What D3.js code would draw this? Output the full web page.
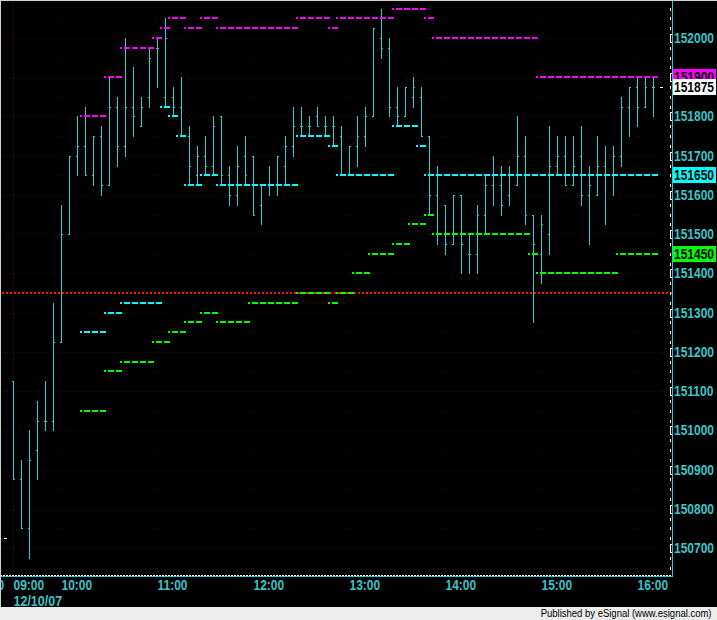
<!DOCTYPE html>
<html><head><meta charset="utf-8">
<script src="https://cdn.jsdelivr.net/npm/d3@7"></script>
<style>html,body{margin:0;padding:0;background:#000;overflow:hidden}svg{display:block}</style>
</head><body><svg id="c" width="717" height="620"></svg>
<script>
// ---------- DATA ----------
const barTimes = ["09:30","09:35","09:40","09:45","09:50","09:55","10:00","10:05","10:10","10:15","10:20","10:25",
"10:30","10:35","10:40","10:45","10:50","10:55","11:00","11:05","11:10","11:15","11:20","11:25",
"11:30","11:35","11:40","11:45","11:50","11:55","12:00","12:05","12:10","12:15","12:20","12:25",
"12:30","12:35","12:40","12:45","12:50","12:55","13:00","13:05","13:10","13:15","13:20","13:25",
"13:30","13:35","13:40","13:45","13:50","13:55","14:00","14:05","14:10","14:15","14:20","14:25",
"14:30","14:35","14:40","14:45","14:50","14:55","15:00","15:05","15:10","15:15","15:20","15:25",
"15:30","15:35","15:40","15:45","15:50","15:55","16:00","16:05","16:10"];
const opens  = [151125,150875,150750,150950,151025,151025,151225,151500,151700,151725,151650,151750,
151625,151825,151725,151825,151775,151850,151975,151850,151850,151825,151750,151650,
151700,151675,151800,151650,151600,151700,151700,151575,151625,151625,151675,151725,
151775,151775,151800,151775,151775,151750,151650,151725,151750,151800,152000,151975,
151825,151800,151850,151850,151750,151600,151575,151475,151600,151450,151450,151550,
151625,151625,151600,151625,151700,151550,151450,151500,151675,151700,151625,151700,
151600,151600,151675,151650,151700,151825,151875,151825,151875];
const highs  = [151125,150925,151000,151075,151125,151325,151575,151700,151800,151825,151750,151775,
151900,151850,152000,151925,151850,151975,152000,152050,151875,151900,151775,151725,
151750,151800,151800,151675,151725,151750,151700,151625,151675,151700,151750,151825,
151825,151800,151825,151800,151800,151775,151725,151800,151825,152025,152075,152000,
151875,151875,151900,151875,151750,151675,151575,151600,151600,151500,151575,151650,
151700,151675,151675,151800,151750,151550,151550,151775,151750,151750,151750,151775,
151675,151750,151725,151725,151850,151875,151900,151900,151900];
const lows   = [150875,150750,150675,150875,151000,151000,151225,151500,151650,151650,151625,151600,
151625,151675,151700,151750,151775,151825,151875,151825,151800,151750,151625,151625,
151650,151650,151625,151575,151575,151625,151550,151525,151600,151600,151625,151700,
151750,151750,151775,151750,151725,151650,151650,151675,151725,151800,151950,151800,
151775,151800,151825,151750,151550,151475,151450,151475,151400,151400,151400,151500,
151575,151550,151575,151625,151525,151275,151375,151450,151650,151625,151625,151575,
151475,151600,151525,151600,151675,151750,151775,151825,151800];
const closes = [150875,150750,150925,151025,151025,151225,151500,151700,151725,151650,151750,151625,
151825,151725,151825,151800,151825,151950,151975,152000,151825,151750,151675,151700,
151675,151775,151650,151600,151675,151650,151550,151625,151625,151700,151725,151775,
151775,151775,151775,151775,151775,151650,151725,151750,151800,152025,151975,151825,
151800,151875,151875,151750,151600,151650,151475,151600,151475,151450,151550,151625,
151650,151575,151650,151700,151550,151475,151525,151675,151700,151625,151675,151600,
151625,151675,151650,151700,151825,151875,151825,151875,151875];

// level segments: [value, first bar, last bar]
const highLevels = [[151800,"10:15","10:25"],[151900,"10:30","10:35"],[151975,"10:40","10:55"],[152000,"11:00","11:00"],
[152025,"11:05","11:05"],[152050,"11:10","11:15"],[152025,"11:20","11:25"],[152050,"11:30","11:35"],
[152025,"11:40","12:25"],[152050,"12:30","12:45"],[152025,"12:50","12:50"],[152050,"12:55","13:25"],
[152075,"13:30","13:45"],[152050,"13:50","13:50"],[152000,"13:55","14:55"],[151900,"15:00","16:10"]];
const lowLevels = [[151250,"10:15","10:25"],[151300,"10:30","10:35"],[151325,"10:40","11:00"],[151825,"11:05","11:05"],
[151800,"11:10","11:10"],[151750,"11:15","11:15"],[151625,"11:20","11:25"],[151650,"11:30","11:35"],
[151625,"11:40","12:25"],[151750,"12:30","12:45"],[151725,"12:50","12:50"],[151650,"12:55","13:25"],
[151775,"13:30","13:40"],[151725,"13:45","13:45"],[151650,"13:50","16:10"]];
const midLevels = [[151050,"10:15","10:25"],[151150,"10:30","10:35"],[151175,"10:40","10:55"],[151225,"11:00","11:05"],
[151250,"11:10","11:15"],[151275,"11:20","11:25"],[151300,"11:30","11:35"],[151275,"11:40","11:55"],
[151325,"12:00","12:25"],[151350,"12:30","12:45"],[151325,"12:50","12:50"],[151350,"12:55","13:00"],
[151400,"13:05","13:10"],[151450,"13:15","13:25"],[151475,"13:30","13:35"],[151525,"13:40","13:45"],
[151550,"13:50","13:50"],[151500,"13:55","14:50"],[151450,"14:55","14:55"],[151400,"15:00","15:45"],
[151450,"15:50","16:10"]];
const refLevel = 151350;
const lastPrice = 151875;
const priorMark = 150725;

const priceTicks = [152000,151800,151700,151600,151500,151400,151300,151200,151100,151000,150900,150800,150700];
const gridLevels = [152000,151900,151800,151700,151600,151500,151400,151300,151200,151100,151000,150900,150800,150700];
const halfLevels = [152050,151950,151850,151750,151650,151550,151450,151350,151250,151150,151050,150950,150850,150750,150650];
const tagValues = [151900,151875,151650,151450];
const timeTicks  = ["09:30","10:00","11:00","12:00","13:00","14:00","15:00","16:00"];
const timeLabels = ["09:00","10:00","11:00","12:00","13:00","14:00","15:00","16:00"];
const hourTicks = ["10:00","11:00","12:00","13:00","14:00","15:00","16:00"];
const dateLabel = "12/10/07";
const credit = "Published by eSignal (www.esignal.com)";

// ---------- STYLE ----------
const C = {bar:"#2ecbd2", axis:"#30c8cc", txt:"#3cc4c8", grid:"#7a0000", red:"#ff1010",
  mag:"#ff00ff", cyan:"#00ffff", green:"#00ff00", white:"#ffffff"};
const tagFill = {151900:C.mag, 151875:"#ffffff", 151650:C.cyan, 151450:C.green};
const font = "'Liberation Sans', Arial, sans-serif";

const svg = d3.select("#c").attr("shape-rendering","crispEdges");
svg.append("rect").attr("width",717).attr("height",620).attr("fill","#000");

const x = d3.scalePoint().domain(barTimes).range([13, 653]);
const y = d3.scaleLinear().domain([150700, 152000]).range([548, 38]);
const ry = v => Math.round(y(v));

// grid dots (100 levels, every 8px)
const gridCols = d3.range(-1, 82).map(k => x(barTimes[0]) + 8*k);
const g = svg.append("g").attr("fill", C.grid);
gridLevels.forEach(v => gridCols.forEach(cx => g.append("rect").attr("x",cx).attr("y",ry(v)).attr("width",1).attr("height",1)));
halfLevels.forEach(v => hourTicks.forEach(t => g.append("rect").attr("x",x(t)).attr("y",ry(v)).attr("width",1).attr("height",1)));
svg.append("line").attr("x1",x("09:30")+0.5).attr("x2",x("09:30")+0.5).attr("y1",2).attr("y2",575)
  .attr("stroke",C.grid).attr("stroke-dasharray","1,3");

// reference red dotted line
svg.append("line").attr("x1",2).attr("x2",672).attr("y1",ry(refLevel)).attr("y2",ry(refLevel))
  .attr("stroke",C.red).attr("stroke-width",2).attr("stroke-dasharray","2,2");

// bars
const bars = svg.append("g").attr("fill", C.bar);
barTimes.forEach((t,i) => {
  const bx = x(t);
  bars.append("rect").attr("x",bx).attr("y",ry(highs[i])).attr("width",1).attr("height",ry(lows[i])-ry(highs[i])+1);
  bars.append("rect").attr("x",bx-1).attr("y",ry(opens[i])).attr("width",1).attr("height",1);
  bars.append("rect").attr("x",bx+1).attr("y",ry(closes[i])).attr("width",1).attr("height",1);
});

// level segments
function levels(data, color){
  svg.append("g").selectAll("line").data(data).join("line")
    .attr("x1", d => x(d[1]) - 5).attr("x2", d => x(d[2]) + 5)
    .attr("y1", d => ry(d[0])).attr("y2", d => ry(d[0]))
    .attr("stroke", color).attr("stroke-width", 2)
    .attr("stroke-dasharray","6,2").attr("stroke-dashoffset",4);
}
levels(highLevels, C.mag);
levels(lowLevels, C.cyan);
levels(midLevels, C.green);

// small white markers
svg.append("rect").attr("x",x(barTimes[barTimes.length-1])+7).attr("y",ry(lastPrice)).attr("width",3).attr("height",1).attr("fill",C.white);
svg.append("rect").attr("x",4).attr("y",ry(priorMark)).attr("width",3).attr("height",1).attr("fill",C.white);

// axes lines
svg.append("rect").attr("x",672).attr("y",0).attr("width",1).attr("height",577).attr("fill",C.axis);
svg.append("rect").attr("x",0).attr("y",576).attr("width",673).attr("height",1).attr("fill",C.axis);
svg.append("line").attr("x1",0).attr("x2",671).attr("y1",575.5).attr("y2",575.5).attr("stroke",C.white).attr("stroke-dasharray","2,1");

// right axis white ticks
const tickVals = d3.range(150650, 152100, 25);
const wt = svg.append("g").attr("fill", C.white);
tickVals.forEach(v => {
  const r = ry(v);
  if (v % 100 === 0) {
    wt.append("rect").attr("x",670).attr("y",r-4).attr("width",1).attr("height",9);
    wt.append("rect").attr("x",670).attr("y",r-4).attr("width",2).attr("height",1);
    wt.append("rect").attr("x",670).attr("y",r+4).attr("width",2).attr("height",1);
  } else {
    wt.append("rect").attr("x",670).attr("y",r-1).attr("width",1).attr("height",3);
  }
});

// price labels (12px bold, stretched vertically)
const lbl = (sel) => sel.attr("font-family",font).attr("font-weight","bold").attr("font-size",12);
lbl(svg.append("g").selectAll("text").data(priceTicks).join("text")
  .attr("transform",d => `translate(674,${ry(d)+5}) scale(1,1.15)`).text(d => d)
  .attr("fill",C.txt));

// tag boxes
tagValues.forEach(v => {
  const r = ry(v);
  svg.append("rect").attr("x",673).attr("y",r-8).attr("width",43).attr("height",16).attr("fill",tagFill[v]);
  lbl(svg.append("text").attr("transform",`translate(674,${r+5}) scale(1,1.15)`).text(v).attr("fill","#000"));
});

// time labels
lbl(svg.append("g").selectAll("text").data(timeTicks).join("text")
  .attr("transform",d => `translate(${x(d)+0.5},590) scale(1,1.25)`).text((d,i) => timeLabels[i])
  .attr("fill",C.txt));
lbl(svg.append("text").attr("transform","translate(-2.5,590) scale(1,1.25)").text("0").attr("fill",C.txt));
svg.append("text").attr("transform",`translate(${x("09:30")+0.5},606) scale(1,1.2)`).text(dateLabel)
  .attr("fill",C.txt).attr("font-family",font).attr("font-weight","bold").attr("font-size",12.5);

// bottom strip + borders
svg.append("rect").attr("x",0).attr("y",607).attr("width",717).attr("height",13).attr("fill","#ececec");
svg.append("text").attr("transform","translate(711.5,617) scale(1,1.1)").attr("text-anchor","end").text(credit)
  .attr("fill","#000").attr("font-family",font).attr("font-size",9.5);
svg.append("rect").attr("x",0).attr("y",0).attr("width",717).attr("height",1).attr("fill","#d0d0d0");
svg.append("rect").attr("x",0).attr("y",0).attr("width",1).attr("height",607).attr("fill","#d0d0d0");
</script></body></html>
